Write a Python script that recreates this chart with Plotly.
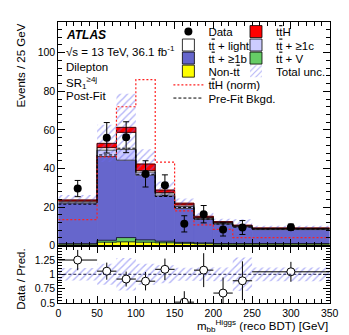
import plotly.graph_objects as go

# m_bb (reco BDT) binning in GeV, yields (events / 25 GeV)
edges = [0, 50, 75, 100, 125, 150, 175, 200, 225, 250, 350]
data = [29.6, 55.9, 56.2, 37.2, 31.3, 11.3, 16.3, 8.4, 9.4, 9.6]
data_err = [4.2, 7.9, 8.0, 6.8, 5.4, 4.2, 4.5, 3.4, 3.6, 1.6]

non_tt = [0.8, 1.8, 2.0, 1.8, 1.5, 1.2, 1.0, 0.8, 0.8, 0.8]
tt_v = [0.2, 1.0, 2.2, 1.2, 0.8, 0.5, 0.4, 0.3, 0.3, 0.3]
tt_b = [21.0, 43.4, 40.1, 33.5, 23.5, 17.6, 12.2, 10.1, 8.6, 7.2]
tt_c = [0.6, 3.3, 5.6, 1.6, 1.0, 1.0, 0.5, 0.4, 0.3, 0.3]
tt_light = [0.5, 1.3, 8.8, 0.8, 0.8, 0.8, 0.5, 0.4, 0.3, 0.3]
tth = [0.6, 2.2, 2.6, 3.4, 1.2, 0.9, 0.6, 0.5, 0.3, 0.3]
tot_unc = [2.6, 9.7, 17.4, 7.7, 4.5, 2.5, 1.8, 1.5, 3.1, 1.1]

tth_norm = [13.5, 46.0, 72.0, 86.0, 43.3, 18.0, 10.8, 8.4, 4.2, 4.2]
prefit_bkg = [21.5, 47.0, 50.5, 37.0, 25.5, 19.8, 13.8, 11.2, 9.6, 8.6]

TB = 't<span style="text-decoration:overline">t</span>'
FONT = "Liberation Sans, Arial, Helvetica, sans-serif"
W, H = 349, 335

centers = [(a + b) / 2 for a, b in zip(edges[:-1], edges[1:])]
widths = [b - a for a, b in zip(edges[:-1], edges[1:])]

# stack, bottom to top
stack = [
    ("Non-" + TB, non_tt, "#ffff00", "legend7"),
    (TB + " + V", tt_v, "#66cc66", "legend6"),
    (TB + " + \u22651b", tt_b, "#6666cc", "legend5"),
    (TB + " + \u22651c", tt_c, "#ccccff", "legend4"),
    (TB + " + light", tt_light, "#ffffff", "legend3"),
    (TB + "H", tth, "#ff0000", "legend2"),
]

fig = go.Figure()
base = [0.0] * len(centers)
for name, vals, col, leg in stack:
    # outline in the fill colour closes the hairline gaps between neighbouring bins
    fig.add_trace(go.Bar(x=centers, y=vals, base=base, width=widths, showlegend=False,
                         marker=dict(color=col, line=dict(color=col, width=0.8)),
                         xaxis="x", yaxis="y"))
    base = [b + v for b, v in zip(base, vals)]
    # histogram outline, ROOT style (steps only, no full-height bin edges)
    fig.add_trace(go.Scatter(x=edges, y=base + base[-1:], mode="lines", showlegend=False,
                             line=dict(shape="hv", color="black", width=0.7), hoverinfo="skip",
                             xaxis="x", yaxis="y"))
    # legend key with its black frame
    fig.add_trace(go.Bar(x=[None], y=[None], name=name, legend=leg,
                         marker=dict(color=col, line=dict(color="black", width=0.8)),
                         xaxis="x", yaxis="y"))
total = base

hatch = dict(shape="/", fgcolor="#6a6af0", bgcolor="rgba(0,0,0,0)",
             size=5, solidity=0.28, fillmode="overlay")
fig.add_trace(go.Bar(x=centers, y=[2 * u for u in tot_unc],
                     base=[t - u for t, u in zip(total, tot_unc)], width=widths,
                     name="Total unc.", legend="legend8",
                     marker=dict(color="rgba(0,0,0,0)", line=dict(width=0), pattern=hatch),
                     xaxis="x", yaxis="y"))

fig.add_trace(go.Scatter(x=edges, y=tth_norm + tth_norm[-1:], mode="lines", name=TB + "H (norm)",
                         line=dict(shape="hv", color="#ff2020", dash="2px,2px", width=1.2),
                         legend="legend9", xaxis="x", yaxis="y"))
fig.add_trace(go.Scatter(x=edges, y=prefit_bkg + prefit_bkg[-1:], mode="lines", name="Pre-Fit Bkgd.",
                         line=dict(shape="hv", color="black", dash="3px,2px", width=1),
                         legend="legend10", xaxis="x", yaxis="y"))

fig.add_trace(go.Scatter(x=centers, y=data, mode="markers", name="Data", legend="legend",
                         marker=dict(color="black", size=8),
                         error_y=dict(type="data", array=data_err, color="black", thickness=1, width=3),
                         xaxis="x", yaxis="y"))

# ratio panel
ratio = [d / t for d, t in zip(data, total)]
ratio_err = [e / t for e, t in zip(data_err, total)]
band = [u / t for u, t in zip(tot_unc, total)]
fig.add_trace(go.Bar(x=centers, y=[2 * b for b in band], base=[1 - b for b in band], width=widths,
                     showlegend=False, marker=dict(color="rgba(0,0,0,0)", line=dict(width=0), pattern=hatch),
                     xaxis="x2", yaxis="y2"))
fig.add_shape(type="line", xref="x2 domain", x0=0, x1=1, yref="y2", y0=1, y1=1,
              line=dict(color="#202050", width=1, dash="3px,2px"))
fig.add_trace(go.Scatter(x=centers, y=ratio, mode="markers", showlegend=False,
                         marker=dict(color="white", size=8, line=dict(color="black", width=1)),
                         error_x=dict(type="data", array=[w / 2 for w in widths], color="black", thickness=1, width=0),
                         error_y=dict(type="data", array=ratio_err, color="black", thickness=1, width=0),
                         xaxis="x2", yaxis="y2"))

ax = dict(showline=True, linecolor="black", linewidth=1, mirror="ticks", showgrid=False,
          zeroline=False, ticks="inside", tickcolor="black", tickfont=dict(size=10.5))
xdom = [49 / W, 330 / W]
fig.update_layout(
    width=W, height=H, margin=dict(l=0, r=0, t=0, b=0),
    plot_bgcolor="white", paper_bgcolor="white", barmode="overlay",
    font=dict(family=FONT, size=11, color="black"),
    xaxis=dict(ax, domain=xdom, anchor="y", range=[0, 350], dtick=50, ticklen=7,
               showticklabels=False, minor=dict(ticks="inside", ticklen=4, dtick=10)),
    yaxis=dict(ax, domain=[0.2776, 0.958], anchor="x", range=[0, 116], dtick=20, ticklen=7,
               minor=dict(ticks="inside", ticklen=4, dtick=4)),
    xaxis2=dict(ax, domain=xdom, anchor="y2", range=[0, 350], dtick=50, ticklen=7, matches="x",
                minor=dict(ticks="inside", ticklen=4, dtick=10)),
    yaxis2=dict(ax, domain=[0.1036, 0.2776], anchor="x2", range=[0.5, 1.5],
                tickmode="array", tickvals=[0.5, 0.75, 1, 1.25], ticktext=["0.5", "0.75", "1", "1.25"],
                ticklen=7, minor=dict(ticks="inside", ticklen=4, tickmode="linear", tick0=0.5, dtick=0.05)),
)

# one legend box per entry, two columns like the ATLAS legend
leg_pos = {
    "legend": (163, 24), "legend2": (233, 24),
    "legend3": (163, 37.7), "legend4": (233, 37.7),
    "legend5": (163, 51), "legend6": (233, 51),
    "legend7": (163, 64.3), "legend8": (233, 64.3),
    "legend9": (163, 78.3), "legend10": (163, 91.7),
}
for key, (lx, ly) in leg_pos.items():
    fig.update_layout({key: dict(x=lx / W, y=1 - ly / H, xanchor="left", yanchor="middle",
                                 bgcolor="rgba(0,0,0,0)", borderwidth=0,
                                 font=dict(family=FONT, size=11.5, color="black"))})

texts = [
    ("<b><i>ATLAS</i></b>", 27, 12),
    ("\u221as = 13 TeV, 36.1 fb<sup>-1</sup>", 44, 11.5),
    ("Dilepton", 60, 11.5),
    ("SR<sub>1</sub><sup>\u22654j</sup>", 76.5, 11.5),
    ("Post-Fit", 90, 11.5),
]
for txt, ty, fs in texts:
    fig.add_annotation(text=txt, xref="paper", yref="paper", x=55 / W, y=1 - ty / H,
                       xanchor="left", yanchor="middle", showarrow=False, font=dict(size=fs))

fig.add_annotation(text="Events / 25 GeV", xref="paper", yref="paper", x=10 / W, y=1 - 14 / H,
                   textangle=-90, xanchor="center", yanchor="top", showarrow=False, font=dict(size=11.5))
fig.add_annotation(text="Data / Pred.", xref="paper", yref="paper", x=10 / W, y=1 - 276 / H,
                   textangle=-90, xanchor="center", yanchor="middle", showarrow=False, font=dict(size=11.5))
fig.add_annotation(text="m<sub>bb</sub><sup>Higgs</sup> (reco BDT) [GeV]", xref="paper", yref="paper",
                   x=330 / W, y=1 - 324 / H, xanchor="right", yanchor="middle", showarrow=False,
                   font=dict(size=11.5))

fig.write_html("out.html")
